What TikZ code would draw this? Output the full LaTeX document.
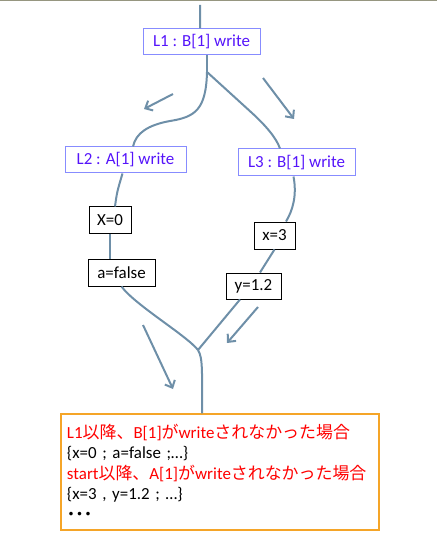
\documentclass[tikz,border=0pt]{standalone}
\usepackage{fontspec}
\setmainfont{Carlito}
\newfontfamily\jp{Noto Sans CJK JP}
\usetikzlibrary{arrows.meta}
\definecolor{branch}{RGB}{110,143,168}
\definecolor{lblue}{RGB}{85,20,250}
\definecolor{lframe}{RGB}{135,140,255}
\definecolor{resframe}{RGB}{245,165,40}
\definecolor{topline}{RGB}{150,150,128}
\begin{document}
\begin{tikzpicture}[x=1bp,y=-1bp,
  lbl/.style={draw=lframe,line width=1bp,text=lblue,inner sep=0pt,minimum height=26bp,font=\fontsize{17}{20}\selectfont},
  val/.style={draw=black,line width=1bp,inner sep=0pt,minimum height=26bp,font=\fontsize{17}{20}\selectfont},
  thread/.style={branch,line width=2bp},
  hint/.style={branch,line width=2bp,-{Straight Barb[length=6bp,width=11bp]}}]
  \useasboundingbox (0,0) rectangle (437,539);
  \draw[topline,line width=1.5bp] (0,0.75) -- (437,0.75);
  \node[lbl,minimum width=117bp] (l1) at (201.5,42) {L1 : B[1] write};
  \node[lbl,minimum width=121bp] (l2) at (125.5,160) {L2 : A[1] write};
  \node[lbl,minimum width=117bp,minimum height=27bp] (l3) at (296.5,162.5) {L3 : B[1] write};
  \node[val,minimum width=42bp] (xa) at (110,220) {X=0};
  \node[val,minimum width=67bp,minimum height=27bp] (af) at (121.5,272.5) {a=false};
  \node[val,minimum width=41bp,minimum height=27bp] (xb) at (274.5,235.5) {x=3};
  \node[val,minimum width=55bp] (yb) at (253.5,286) {y=1.2};
  \node[draw=resframe,line width=1.5bp,minimum width=318bp,minimum height=116bp,text width=306bp,inner xsep=6bp,inner ysep=0pt,align=left,font={\fontsize{17}{20.5}\selectfont\lineskiplimit=-10pt}] (res) at (220,472)
    {\textcolor{red}{L1{\jp 以降、}B[1]{\jp が}write{\jp されなかった場合}}\\
     \{x=0 ; a=false ;…\}\\
     \textcolor{red}{start{\jp 以降、}A[1]{\jp が}write{\jp されなかった場合}}\\
     \{x=3 , y=1.2 ; …\}\\
     {\jp\bfseries ･･･}};
  \coordinate (top) at (200,5);
  \coordinate (split) at (207,72);
  \coordinate (merge) at (198,350);
  \draw[thread] (top) -- ([xshift=-1.5bp]l1.north);
  \draw[thread] (split |- l1.south) -- (split);
  \draw[thread] (split) .. controls (206,110) and (195,117) .. (170,121) .. controls (148,125) and (136,133) .. ([xshift=7.5bp]l2.north);
  \draw[thread] (split) -- (252,113) .. controls (264,124) and (276,137) .. ([xshift=-16.5bp]l3.north);
  \draw[thread] ([xshift=-3bp]l2.south) .. controls (117,192) .. ([xshift=5bp]xa.north);
  \draw[thread] (xa.south) -- (xa.south |- af.north);
  \draw[thread] (af.south) .. controls (135,305) and (186,335) .. (merge) .. controls (203,358) and (202,372) .. ([xshift=-18bp]res.north);
  \draw[thread] ([xshift=-3bp]l3.south) .. controls (297,195) and (293,210) .. ([xshift=11.5bp]xb.north);
  \draw[thread] (xb.south) -- ([xshift=6.5bp]yb.north);
  \draw[thread] ([xshift=-13.5bp]yb.south) -- (merge);
  \draw[hint] (173,94) -- (144,109);
  \draw[hint] (263,78) -- (294,119);
  \draw[hint] (143,325) -- (173,389);
  \draw[hint] (258,307) -- (227,343);
\end{tikzpicture}
\end{document}
